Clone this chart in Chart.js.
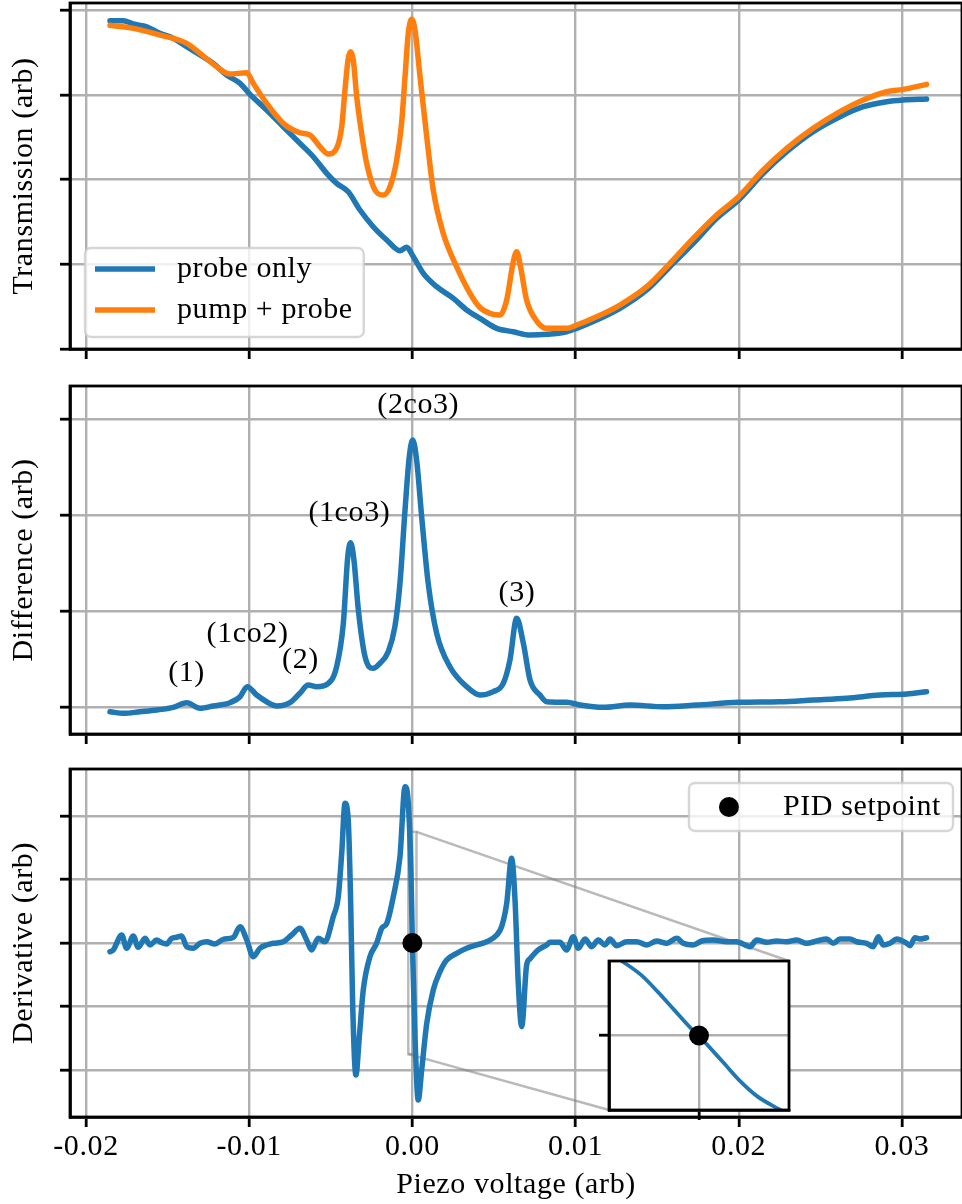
<!DOCTYPE html>
<html>
<head>
<meta charset="utf-8">
<script src="https://cdn.jsdelivr.net/npm/chart.js@4.4.1/dist/chart.umd.min.js"></script>
<style>
  html, body { margin: 0; padding: 0; background: #fff; overflow: hidden; }
  #wrap { position: relative; width: 962px; height: 1204px; }
  canvas { position: absolute; left: 0; }
</style>
</head>
<body>
<div id="wrap">
  <canvas id="trans" width="962" height="370" style="top:0"></canvas>
  <canvas id="diff" width="962" height="383" style="top:370px"></canvas>
  <canvas id="deriv" width="962" height="451" style="top:753px"></canvas>
  <canvas id="zoom" width="198" height="172" style="left:597px;top:953px"></canvas>
</div>
<script>
// ---- transmission scans ----
const probeX = [-0.01853, -0.01771, -0.01710, -0.01628, -0.01547, -0.01465, -0.01383, -0.01301, -0.01220, -0.01138,
                -0.01056, -0.01001, -0.00893, -0.00791, -0.00689, -0.00607, -0.00525, -0.00464, -0.00393, -0.00321,
                -0.00240, -0.00157, -0.00076, -0.00035, 0.00006, 0.00067, 0.00149, 0.00251, 0.00333, 0.00414,
                0.00517, 0.00618, 0.00721, 0.00823, 0.00945, 0.01007, 0.01129, 0.01272, 0.01436, 0.01578,
                0.01721, 0.01865, 0.01999, 0.02150, 0.02294, 0.02456, 0.02620, 0.02763, 0.02906, 0.03008,
                0.03151];
const probeY = [3.874, 3.874, 3.835, 3.803, 3.725, 3.666, 3.567, 3.469, 3.371, 3.233,
                3.135, 3.017, 2.820, 2.623, 2.427, 2.269, 2.073, 1.955, 1.856, 1.640,
                1.443, 1.286, 1.160, 1.200, 1.089, 0.893, 0.735, 0.598, 0.460, 0.362,
                0.244, 0.204, 0.165, 0.173, 0.204, 0.244, 0.342, 0.480, 0.696, 0.971,
                1.247, 1.542, 1.758, 2.073, 2.328, 2.564, 2.741, 2.859, 2.918, 2.938,
                2.950];

const pumpX = [-0.01853, -0.01710, -0.01547, -0.01383, -0.01301, -0.01199, -0.01118, -0.01015, -0.00975, -0.00893,
               -0.00791, -0.00689, -0.00627, -0.00566, -0.00515, -0.00464, -0.00433, -0.00413, -0.00393, -0.00378,
               -0.00362, -0.00341, -0.00311, -0.00280, -0.00229, -0.00178, -0.00137, -0.00096, -0.00066, -0.00045,
               -0.00025, -0.00004, 0.00016, 0.00047, 0.00088, 0.00128, 0.00189, 0.00271, 0.00353, 0.00414,
               0.00475, 0.00537, 0.00578, 0.00618, 0.00639, 0.00659, 0.00700, 0.00762, 0.00823, 0.00945,
               0.01007, 0.01129, 0.01272, 0.01436, 0.01578, 0.01721, 0.01865, 0.01999, 0.02150, 0.02294,
               0.02456, 0.02620, 0.02763, 0.02906, 0.03008, 0.03151];
const pumpY = [3.820, 3.784, 3.705, 3.607, 3.489, 3.331, 3.245, 3.260, 3.135, 2.899,
               2.663, 2.552, 2.525, 2.387, 2.301, 2.368, 2.623, 3.056, 3.430, 3.508,
               3.410, 2.977, 2.545, 2.191, 1.876, 1.817, 1.915, 2.230, 2.663, 3.213,
               3.725, 3.890, 3.764, 3.213, 2.505, 1.876, 1.365, 0.971, 0.657, 0.490,
               0.421, 0.401, 0.578, 1.027, 1.148, 1.011, 0.578, 0.330, 0.244, 0.244,
               0.283, 0.381, 0.519, 0.735, 1.011, 1.306, 1.581, 1.797, 2.112, 2.368,
               2.604, 2.800, 2.938, 3.036, 3.064, 3.123];

// ---- pump+probe minus probe ----
const diffX = [-0.01853, -0.01771, -0.01669, -0.01567, -0.01465, -0.01383, -0.01301, -0.01220, -0.01118, -0.01056,
               -0.01012, -0.00954, -0.00893, -0.00831, -0.00750, -0.00689, -0.00638, -0.00586, -0.00515, -0.00464,
               -0.00423, -0.00396, -0.00378, -0.00358, -0.00331, -0.00290, -0.00240, -0.00199, -0.00148, -0.00107,
               -0.00076, -0.00045, -0.00019, 0.00002, 0.00026, 0.00057, 0.00097, 0.00149, 0.00230, 0.00333,
               0.00414, 0.00496, 0.00557, 0.00598, 0.00639, 0.00680, 0.00721, 0.00782, 0.00823, 0.00945,
               0.01027, 0.01170, 0.01333, 0.01537, 0.01742, 0.01999, 0.02252, 0.02456, 0.02661, 0.02865,
               0.03029, 0.03151];
const diffY = [-0.046, -0.063, -0.046, -0.028, 0.000, 0.048, -0.010, 0.014, 0.048, 0.110,
               0.215, 0.128, 0.058, 0.014, 0.048, 0.146, 0.232, 0.215, 0.250, 0.423,
               0.875, 1.569, 1.715, 1.534, 1.014, 0.527, 0.406, 0.458, 0.579, 0.840,
               1.292, 2.055, 2.610, 2.784, 2.576, 1.985, 1.292, 0.771, 0.423, 0.215,
               0.128, 0.163, 0.250, 0.493, 0.927, 0.667, 0.284, 0.128, 0.058, 0.052,
               0.024, 0.000, 0.024, 0.006, 0.024, 0.052, 0.058, 0.076, 0.094, 0.128,
               0.139, 0.163];

// peak labels for the difference trace
const peakNames = ['(1)', '(1co2)', '(2)', '(1co3)', '(2co3)', '(3)'];
const peakX = [-0.01384, -0.01010, -0.00686, -0.00386, 0.00036, 0.00641];
const peakLabelY = [0.354, 0.763, 0.493, 2.024, 3.144, 1.188];

// ---- error signal (derivative) ----
const derivX = [-0.01853, -0.01833, -0.01781, -0.01751, -0.01710, -0.01680, -0.01638, -0.01608, -0.01567, -0.01536,
                -0.01506, -0.01475, -0.01444, -0.01414, -0.01383, -0.01343, -0.01301, -0.01260, -0.01210, -0.01159,
                -0.01097, -0.01056, -0.01015, -0.00975, -0.00934, -0.00893, -0.00852, -0.00791, -0.00740, -0.00689,
                -0.00648, -0.00617, -0.00577, -0.00536, -0.00485, -0.00454, -0.00433, -0.00413, -0.00393, -0.00378,
                -0.00366, -0.00346, -0.00325, -0.00301, -0.00260, -0.00219, -0.00188, -0.00157, -0.00117, -0.00076,
                -0.00045, -0.00025, -0.00009, 0.00000, 0.00016, 0.00036, 0.00057, 0.00088, 0.00128, 0.00169,
                0.00210, 0.00271, 0.00333, 0.00394, 0.00455, 0.00517, 0.00547, 0.00578, 0.00608, 0.00629,
                0.00649, 0.00670, 0.00700, 0.00720, 0.00770, 0.00823, 0.00843, 0.00904, 0.00945, 0.00986,
                0.01017, 0.01058, 0.01099, 0.01139, 0.01180, 0.01211, 0.01252, 0.01313, 0.01374, 0.01436,
                0.01497, 0.01558, 0.01620, 0.01660, 0.01721, 0.01773, 0.01844, 0.01926, 0.01987, 0.02069,
                0.02110, 0.02171, 0.02232, 0.02293, 0.02355, 0.02416, 0.02477, 0.02539, 0.02579, 0.02620,
                0.02681, 0.02722, 0.02784, 0.02824, 0.02855, 0.02885, 0.02926, 0.02968, 0.03029, 0.03049,
                0.03080, 0.03110, 0.03151];
const derivY = [-0.137, -0.110, 0.126, -0.083, 0.110, -0.068, 0.074, -0.031, 0.047, 0.005,
                -0.016, 0.074, 0.090, 0.110, -0.058, -0.083, -0.005, 0.020, -0.016, 0.058,
                0.090, 0.257, 0.047, -0.216, -0.083, -0.031, -0.005, 0.020, 0.126, 0.231,
                0.047, -0.110, 0.074, 0.020, 0.414, 0.729, 1.413, 2.200, 1.937, 0.625,
                -0.950, -2.079, -1.476, -0.740, -0.216, -0.005, 0.231, 0.310, 0.729, 1.359,
                2.461, 2.200, 1.150, 0.000, -1.476, -2.472, -2.000, -1.265, -0.740, -0.452,
                -0.268, -0.162, -0.083, -0.031, 0.020, 0.126, 0.257, 0.625, 1.334, 0.677,
                -0.635, -1.318, -0.350, -0.250, -0.110, -0.030, 0.011, 0.011, -0.110, 0.099,
                -0.083, 0.063, -0.058, 0.047, -0.031, 0.063, -0.043, 0.020, 0.020, -0.031,
                0.031, -0.005, 0.074, -0.005, -0.031, 0.031, 0.047, 0.020, 0.020, -0.058,
                0.047, 0.011, 0.031, 0.020, 0.047, -0.005, 0.031, 0.063, -0.005, 0.063,
                0.063, 0.020, -0.005, -0.058, 0.099, -0.031, -0.005, 0.063, -0.005, -0.043,
                0.083, 0.063, 0.083];

// close-up of the zero crossing used as lock point
const zoomX = [-0.000250, -0.000212, -0.000161, -0.000115, -0.000069, -0.000023, 0.000000,
               0.000023, 0.000069, 0.000115, 0.000162, 0.000221, 0.000250];
const zoomY = [1.94, 1.735, 1.423, 1.031, 0.602, 0.173, 0.000,
               -0.218, -0.647, -1.078, -1.430, -1.725, -1.855];

const setpointX = [0.0];
const setpointY = [0.0];

// ---- styling ----
const BLUE = '#1f77b4', ORANGE = '#ff7f0e', GRID = '#b0b0b0';
const X_MIN = -0.02098, X_MAX = 0.03368;
const ZOOM_X = [-0.00025, 0.00025], ZOOM_Y = [-1.75, 1.75];
const SERIF = "'Liberation Serif', 'Times New Roman', serif";
const AXIS_W = 2.8, GRID_W = 2.4, CURVE_W = 5.5;

Chart.defaults.font.family = SERIF;
Chart.defaults.font.size = 30;
Chart.defaults.color = '#000';
Chart.defaults.animation = false;

// a little tracking so the serif face runs as wide as the axis labels need
Chart.register({
  id: 'tracking',
  beforeInit(c) { c.ctx.letterSpacing = '0.6px'; },
  beforeUpdate(c) { c.ctx.letterSpacing = '0.6px'; },
  beforeDraw(c) { c.ctx.letterSpacing = '0.6px'; }
});

const pts = (xs, ys) => xs.map((x, i) => ({x: x, y: ys[i]}));

function lineSet(label, xs, ys, color, order) {
  return {label: label, data: pts(xs, ys), borderColor: color, backgroundColor: color,
          borderWidth: CURVE_W, pointRadius: 0, cubicInterpolationMode: 'monotone', order: order,
          borderJoinStyle: 'round', borderCapStyle: 'round'};
}

const gridOpts = () => ({color: GRID, lineWidth: GRID_W, tickColor: '#000', tickWidth: AXIS_W, tickLength: 10});
const borderOpts = () => ({color: '#000', width: AXIS_W});

function xAxis(height, labels) {
  return {
    type: 'linear', min: X_MIN, max: X_MAX,
    ticks: {stepSize: 0.01, includeBounds: false, display: labels, padding: 2, maxRotation: 0,
            autoSkip: false,
            callback: v => (Math.abs(v) < 1e-9 ? 0 : v).toFixed(2)},
    grid: gridOpts(),
    border: borderOpts(),
    title: {display: labels, text: 'Piezo voltage (arb)', padding: {top: 0, bottom: 1}},
    afterFit: s => { s.height = height; }
  };
}

function yAxis(min, max, title) {
  return {
    type: 'linear', min: min, max: max,
    ticks: {stepSize: 1, includeBounds: false, display: false},
    grid: gridOpts(),
    border: borderOpts(),
    title: {display: true, text: title, padding: {top: 6, bottom: 0}},
    afterFit: s => { s.width = 70; }
  };
}

// black box around the plotting area
const frame = {
  id: 'frame',
  afterDatasetsDraw(chart) {
    const {ctx, chartArea: a} = chart;
    ctx.save();
    ctx.strokeStyle = '#000';
    ctx.lineWidth = AXIS_W;
    ctx.strokeRect(a.left, a.top, a.right - a.left, a.bottom - a.top);
    ctx.restore();
  }
};

function roundRect(ctx, x, y, w, h, r) {
  ctx.beginPath();
  ctx.moveTo(x + r, y);
  ctx.arcTo(x + w, y, x + w, y + h, r);
  ctx.arcTo(x + w, y + h, x, y + h, r);
  ctx.arcTo(x, y + h, x, y, r);
  ctx.arcTo(x, y, x + w, y, r);
  ctx.closePath();
}

// legend in a rounded translucent box, drawn from the dataset labels
const boxLegend = {
  id: 'boxLegend',
  afterDraw(chart, args, o) {
    const {ctx, chartArea: a} = chart;
    const items = chart.data.datasets.filter(d => d.label);
    ctx.save();
    ctx.font = '30px ' + SERIF;
    const tw = Math.max(...items.map(d => ctx.measureText(d.label).width));
    const w = o.textX + tw + o.padRight;
    const h = o.height;
    const left = o.anchor === 'lowerLeft' ? a.left + o.dx : a.right - o.dx - w;
    const top = o.anchor === 'lowerLeft' ? a.bottom - o.dy - h : a.top + o.dy;
    roundRect(ctx, left, top, w, h, 6);
    ctx.fillStyle = 'rgba(255,255,255,0.8)';
    ctx.fill();
    ctx.strokeStyle = 'rgba(204,204,204,0.8)';
    ctx.lineWidth = GRID_W;
    ctx.stroke();
    items.forEach((d, i) => {
      const y = top + o.firstRow + i * o.rowGap;
      if (d.showLine === false) {
        ctx.fillStyle = d.backgroundColor;
        ctx.beginPath();
        ctx.arc(left + o.markerX, y, d.pointRadius, 0, Math.PI * 2);
        ctx.fill();
      } else {
        ctx.strokeStyle = d.borderColor;
        ctx.lineWidth = d.borderWidth;
        ctx.beginPath();
        ctx.moveTo(left + 10, y);
        ctx.lineTo(left + 70, y);
        ctx.stroke();
      }
      ctx.fillStyle = '#000';
      ctx.textAlign = 'left';
      ctx.textBaseline = 'middle';
      ctx.fillText(d.label, left + o.textX, y);
    });
    ctx.restore();
  }
};

// names of the resonances next to each peak
const peakTags = {
  id: 'peakTags',
  afterDatasetsDraw(chart) {
    const {ctx, scales} = chart;
    ctx.save();
    ctx.font = '30px ' + SERIF;
    ctx.fillStyle = '#000';
    ctx.textAlign = 'center';
    ctx.textBaseline = 'middle';
    peakNames.forEach((name, i) => {
      ctx.fillText(name, scales.x.getPixelForValue(peakX[i]), scales.y.getPixelForValue(peakLabelY[i]));
    });
    ctx.restore();
  }
};

const commonOpts = {
  responsive: false,
  devicePixelRatio: 1,
  animation: false,
  events: [],
  plugins: {legend: {display: false}, tooltip: {enabled: false}}
};

// ---- inset: zoom on the lock point ----
const whiteArea = {
  id: 'whiteArea',
  beforeDraw(chart) {
    const {ctx, chartArea: a} = chart;
    ctx.save();
    ctx.fillStyle = '#fff';
    ctx.fillRect(a.left, a.top, a.right - a.left, a.bottom - a.top);
    ctx.restore();
  }
};

const zoomChart = new Chart(document.getElementById('zoom'), {
  type: 'line',
  data: {datasets: [
    {data: pts(setpointX, setpointY), showLine: false, pointRadius: 10, pointBorderWidth: 0,
     backgroundColor: '#000', borderColor: '#000', order: 0},
    {data: pts(zoomX, zoomY), borderColor: BLUE, borderWidth: 3.8, pointRadius: 0,
     cubicInterpolationMode: 'monotone', clip: 0, order: 1}
  ]},
  options: Object.assign({}, commonOpts, {
    layout: {autoPadding: false, padding: {top: 8, right: 6, left: 0, bottom: 0}},
    scales: {
      x: {type: 'linear', min: ZOOM_X[0], max: ZOOM_X[1],
          ticks: {stepSize: 0.0004, includeBounds: false, display: false},
          grid: gridOpts(), border: borderOpts(),
          afterFit: s => { s.height = 15; }},
      y: {type: 'linear', min: ZOOM_Y[0], max: ZOOM_Y[1],
          ticks: {stepSize: 2, includeBounds: false, display: false},
          grid: gridOpts(), border: borderOpts(),
          afterFit: s => { s.width = 12; }}
    }
  }),
  plugins: [whiteArea, frame]
});

// rectangle of the zoomed region plus connectors to the inset corners
const insetMark = {
  id: 'insetMark',
  beforeDatasetsDraw(chart) {
    const {ctx, scales} = chart;
    const za = zoomChart.chartArea, zc = zoomChart.canvas, mc = chart.canvas;
    const dx = zc.offsetLeft - mc.offsetLeft, dy = zc.offsetTop - mc.offsetTop;
    const x0 = scales.x.getPixelForValue(ZOOM_X[0]), x1 = scales.x.getPixelForValue(ZOOM_X[1]);
    const y0 = scales.y.getPixelForValue(ZOOM_Y[1]), y1 = scales.y.getPixelForValue(ZOOM_Y[0]);
    ctx.save();
    ctx.strokeStyle = 'rgba(128,128,128,0.55)';
    ctx.lineWidth = GRID_W;
    ctx.strokeRect(x0, y0, x1 - x0, y1 - y0);
    ctx.beginPath();
    ctx.moveTo(x1, y0);
    ctx.lineTo(za.right + dx, za.top + dy);
    ctx.moveTo(x0, y1);
    ctx.lineTo(za.left + dx, za.bottom + dy);
    ctx.stroke();
    ctx.restore();
  }
};

// ---- top: transmission ----
new Chart(document.getElementById('trans'), {
  type: 'line',
  data: {datasets: [
    lineSet('probe only', probeX, probeY, BLUE, 1),
    lineSet('pump + probe', pumpX, pumpY, ORANGE, 0)
  ]},
  options: Object.assign({}, commonOpts, {
    layout: {autoPadding: false, padding: {top: 3, right: 0, left: 0, bottom: 0}},
    plugins: Object.assign({}, commonOpts.plugins, {
      boxLegend: {anchor: 'lowerLeft', dx: 15, dy: 12, height: 89, firstRow: 21, rowGap: 41,
                  textX: 92, padRight: 11, markerX: 40}
    }),
    scales: {x: xAxis(21, false), y: yAxis(0, 4.083, 'Transmission (arb)')}
  }),
  plugins: [frame, boxLegend]
});

// ---- middle: difference ----
new Chart(document.getElementById('diff'), {
  type: 'line',
  data: {datasets: [lineSet('', diffX, diffY, BLUE, 0)]},
  options: Object.assign({}, commonOpts, {
    layout: {autoPadding: false, padding: {top: 16, right: 0, left: 0, bottom: 0}},
    scales: {x: xAxis(19, false), y: yAxis(-0.278, 3.347, 'Difference (arb)')}
  }),
  plugins: [frame, peakTags]
});

// ---- bottom: derivative / error signal ----
const setpointSet = {label: 'PID setpoint', data: pts(setpointX, setpointY), showLine: false,
                     pointRadius: 10, pointBorderWidth: 0, backgroundColor: '#000', borderColor: '#000', order: 0};
new Chart(document.getElementById('deriv'), {
  type: 'line',
  data: {datasets: [lineSet('', derivX, derivY, BLUE, 1), setpointSet]},
  options: Object.assign({}, commonOpts, {
    layout: {autoPadding: false, padding: {top: 16, right: 0, left: 0, bottom: 0}},
    plugins: Object.assign({}, commonOpts.plugins, {
      boxLegend: {anchor: 'upperRight', dx: 9, dy: 14, height: 48, firstRow: 24, rowGap: 41,
                  textX: 94, padRight: 12, markerX: 40}
    }),
    scales: {x: xAxis(87, true), y: yAxis(-2.74, 2.74, 'Derivative (arb)')}
  }),
  plugins: [insetMark, frame, boxLegend]
});
</script>
</body>
</html>
